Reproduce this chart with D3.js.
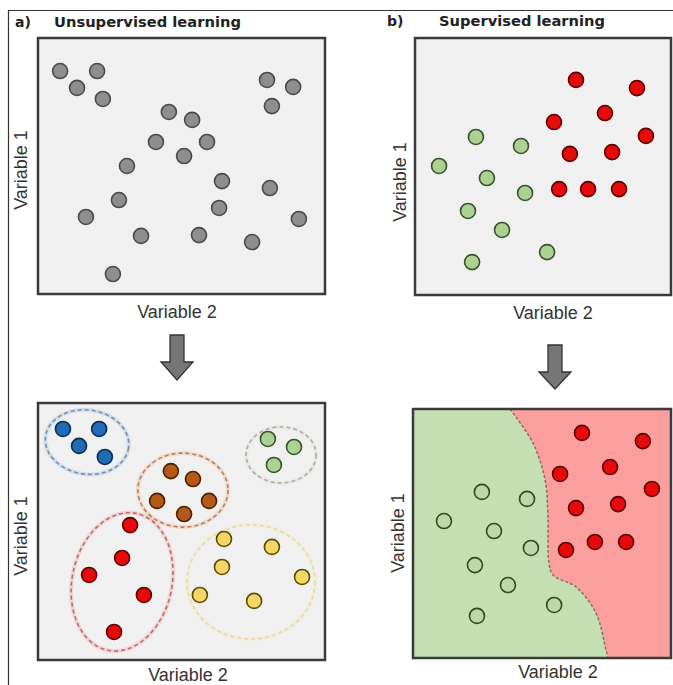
<!DOCTYPE html>
<html>
<head>
<meta charset="utf-8">
<script src="https://cdn.jsdelivr.net/npm/d3@7"></script>
<style>
  body { margin: 0; background: #fff; }
  text { font-family: "Liberation Sans", Arial, sans-serif; fill: #333; }
  .title { font-family: "DejaVu Sans", sans-serif; font-weight: bold; fill: #222; }
</style>
</head>
<body>
<svg id="chart" width="673" height="685"></svg>
<script>
// values, both variables on a 0-100 scale

// a) unsupervised, raw observations
var unsupPoints = [
  [7.7, 87.1], [20.6, 87.1], [13.6, 80.5], [22.6, 76.2], [45.6, 71.1], [53.7, 68.0],
  [41.1, 59.4], [58.9, 59.4], [50.9, 53.9], [31.0, 50.0], [64.1, 44.1], [28.2, 36.7],
  [16.7, 30.1], [63.1, 33.6], [35.9, 22.7], [56.1, 23.0], [74.6, 20.3], [26.1, 7.8],
  [79.8, 83.6], [88.9, 80.9], [81.5, 73.4], [80.8, 41.4], [90.9, 29.3]
];

// a) clustered result
var clusterBlue   = [[8.7, 89.9], [21.3, 89.9], [14.3, 83.3], [23.3, 79.0]];
var clusterOrange = [[46.3, 73.5], [54.0, 70.4], [41.5, 61.9], [59.6, 61.9], [50.9, 56.8]];
var clusterGreen  = [[80.1, 86.0], [89.2, 82.9], [82.2, 75.9]];
var clusterRed    = [[32.1, 52.5], [29.3, 39.7], [17.8, 33.1], [36.9, 25.3], [26.5, 10.9]];
var clusterYellow = [[64.8, 47.1], [81.5, 44.0], [64.1, 36.2], [92.0, 32.3], [56.4, 25.3], [75.3, 23.0]];

// cluster rings: centre, radii (data units), tilt in degrees
var ringNames  = ['blue', 'orange', 'green', 'red', 'yellow'];
var ringCentre = [[17.1, 84.8], [50.5, 66.1], [84.7, 79.8], [29.3, 30.4], [74.2, 30.4]];
var ringRadii  = [[14.6, 12.5], [15.7, 14.4], [12.2, 10.9], [17.4, 27.2], [22.3, 22.2]];
var ringTilt   = [8, 0, 0, 12, 0];

// b) supervised, labelled observations
var supRed = [
  [62.9, 83.7], [86.7, 80.5], [74.2, 70.8], [54.3, 67.3], [90.2, 61.9],
  [60.5, 54.9], [77.0, 55.6], [56.3, 41.2], [67.6, 41.2], [79.7, 41.2]
];
var supGreen = [
  [23.8, 61.5], [41.4, 58.0], [9.4, 50.2], [28.1, 45.5], [43.0, 39.7],
  [20.7, 32.7], [34.0, 25.3], [51.6, 16.7], [22.3, 12.8]
];

// b) classified result
var classRed = [
  [65.5, 90.4], [89.1, 87.1], [76.4, 76.7], [57.0, 73.9], [92.6, 67.9],
  [63.2, 60.2], [79.5, 61.8], [59.3, 43.4], [70.5, 46.6], [82.6, 46.6]
];
var classGreen = [
  [26.7, 66.7], [44.2, 63.9], [12.0, 55.0], [31.4, 51.0], [45.7, 44.2],
  [24.0, 37.3], [36.8, 29.3], [54.7, 21.3], [24.8, 16.9]
];
var decisionBoundary = [
  [37.6, 100], [46.5, 86.3], [51.2, 71.5], [52.3, 56.6], [52.7, 38.2],
  [54.3, 33.3], [63.2, 28.5], [70.9, 18.1], [74.8, 3.2], [75.6, 0]
];

var axisLabels = ['Variable 1', 'Variable 2'];
var panelTitles = [['a)', 'Unsupervised learning'], ['b)', 'Supervised learning']];

var svg = d3.select('#chart');

var palette = {
  gray:   { fill: '#8e8e8e', stroke: '#4a4a4a' },
  red:    { fill: '#e60a0a', stroke: '#5e0000' },
  green:  { fill: '#acd193', stroke: '#34552a' },
  blue:   { fill: '#1f6cb2', stroke: '#0b2c55' },
  orange: { fill: '#b7581b', stroke: '#4a2000' },
  yellow: { fill: '#f6d766', stroke: '#5a4c00' },
  paleGreen: { fill: '#bcd8a8', stroke: '#2d4a22' }
};
var ringColors = {
  blue:   { halo: '#9cc3e6', dash: '#7f8fa0' },
  orange: { halo: '#f2b98a', dash: '#b08468' },
  green:  { halo: '#d8e4cf', dash: '#abb0a6' },
  red:    { halo: '#f4a9a9', dash: '#c06c6c' },
  yellow: { halo: '#f6ecc4', dash: '#e6d9a6' }
};

// outer frame
svg.append('line').attr('x1', 8).attr('x2', 673).attr('y1', 10.5).attr('y2', 10.5)
  .attr('stroke', '#333').attr('stroke-width', 1.2);
svg.append('line').attr('x1', 8.5).attr('x2', 8.5).attr('y1', 10).attr('y2', 685)
  .attr('stroke', '#333').attr('stroke-width', 1.2);

function makePanel(box) {
  return {
    box: box,
    x: d3.scaleLinear().domain([0, 100]).range([box.x0, box.x1]),
    y: d3.scaleLinear().domain([0, 100]).range([box.y1, box.y0])
  };
}

var pA1 = makePanel({ x0: 38, x1: 325, y0: 38, y1: 294, lx: 177, ly: 318, vx: 27, vy: 170 });
var pA2 = makePanel({ x0: 38, x1: 325, y0: 403, y1: 660, lx: 188, ly: 681, vx: 27, vy: 536 });
var pB1 = makePanel({ x0: 415, x1: 671, y0: 38, y1: 295, lx: 553, ly: 319, vx: 406, vy: 182 });
var pB2 = makePanel({ x0: 413, x1: 671, y0: 409, y1: 658, lx: 558, ly: 678, vx: 404, vy: 533 });

function drawBackground(p, fill) {
  var b = p.box;
  svg.append('rect').attr('x', b.x0).attr('y', b.y0)
    .attr('width', b.x1 - b.x0).attr('height', b.y1 - b.y0)
    .attr('fill', fill);
}

function drawBorder(p) {
  var b = p.box;
  svg.append('rect').attr('x', b.x0).attr('y', b.y0)
    .attr('width', b.x1 - b.x0).attr('height', b.y1 - b.y0)
    .attr('fill', 'none').attr('stroke', '#3a3a3a').attr('stroke-width', 2.5);
}

function drawLabels(p) {
  var b = p.box;
  svg.append('text').attr('x', b.lx).attr('y', b.ly)
    .attr('text-anchor', 'middle').style('font-size', '18px')
    .text(axisLabels[1]);
  svg.append('text')
    .attr('transform', 'translate(' + b.vx + ',' + b.vy + ') rotate(-90)')
    .attr('text-anchor', 'middle').style('font-size', '18px')
    .text(axisLabels[0]);
}

function drawPoints(p, data, col) {
  svg.append('g').selectAll('circle').data(data).enter().append('circle')
    .attr('cx', function(d) { return p.x(d[0]); })
    .attr('cy', function(d) { return p.y(d[1]); })
    .attr('r', 7.5)
    .attr('fill', col.fill)
    .attr('stroke', col.stroke)
    .attr('stroke-width', 1.6);
}

function drawArrow(cx, top, headTop, tip) {
  var shaft = 7, head = 16;
  var pts = [
    [cx - shaft, top], [cx + shaft, top], [cx + shaft, headTop], [cx + head, headTop],
    [cx, tip], [cx - head, headTop], [cx - shaft, headTop]
  ];
  svg.append('path')
    .attr('d', 'M' + pts.join('L') + 'Z')
    .attr('fill', '#767676').attr('stroke', '#333').attr('stroke-width', 1.3)
    .attr('stroke-linejoin', 'miter');
}

// titles
svg.append('text').attr('class', 'title').attr('x', 15).attr('y', 27)
  .style('font-size', '14px').text(panelTitles[0][0]);
svg.append('text').attr('class', 'title').attr('x', 54).attr('y', 27)
  .style('font-size', '14px').attr('textLength', 187).attr('lengthAdjust', 'spacingAndGlyphs')
  .text(panelTitles[0][1]);
svg.append('text').attr('class', 'title').attr('x', 387).attr('y', 26)
  .style('font-size', '14px').text(panelTitles[1][0]);
svg.append('text').attr('class', 'title').attr('x', 439).attr('y', 26)
  .style('font-size', '14px').attr('textLength', 166).attr('lengthAdjust', 'spacingAndGlyphs')
  .text(panelTitles[1][1]);

// a) top
drawBackground(pA1, '#f0f0f0');
drawBorder(pA1);
drawPoints(pA1, unsupPoints, palette.gray);
drawLabels(pA1);

// a) bottom, clusters
drawBackground(pA2, '#f0f0f0');
var ringG = svg.append('g');
ringNames.forEach(function(name, i) {
  var cx = pA2.x(ringCentre[i][0]), cy = pA2.y(ringCentre[i][1]);
  var rx = pA2.x(ringRadii[i][0]) - pA2.x(0), ry = pA2.y(0) - pA2.y(ringRadii[i][1]);
  var g = ringG.append('g')
    .attr('transform', 'translate(' + cx + ',' + cy + ') rotate(' + ringTilt[i] + ')');
  g.append('ellipse').attr('rx', rx).attr('ry', ry)
    .attr('fill', 'none').attr('stroke', ringColors[name].halo)
    .attr('stroke-width', 4).attr('stroke-opacity', 0.4);
  g.append('ellipse').attr('rx', rx).attr('ry', ry)
    .attr('fill', 'none').attr('stroke', ringColors[name].dash)
    .attr('stroke-width', 1.6).attr('stroke-dasharray', '4,3');
});
drawBorder(pA2);
drawPoints(pA2, clusterBlue, palette.blue);
drawPoints(pA2, clusterOrange, palette.orange);
drawPoints(pA2, clusterGreen, palette.green);
drawPoints(pA2, clusterRed, palette.red);
drawPoints(pA2, clusterYellow, palette.yellow);
drawLabels(pA2);

// b) top
drawBackground(pB1, '#f0f0f0');
drawBorder(pB1);
drawPoints(pB1, supRed, palette.red);
drawPoints(pB1, supGreen, palette.green);
drawLabels(pB1);

// b) bottom, decision regions
drawBackground(pB2, '#fb9e9e');
var boundaryLine = d3.line()
  .x(function(d) { return pB2.x(d[0]); })
  .y(function(d) { return pB2.y(d[1]); })
  .curve(d3.curveCatmullRom);
var bPath = boundaryLine(decisionBoundary);
svg.append('path')
  .attr('d', 'M' + pB2.x(0) + ',' + pB2.y(100) + 'L' + bPath.slice(1) +
             'L' + pB2.x(0) + ',' + pB2.y(0) + 'Z')
  .attr('fill', '#c4dfb2');
svg.append('path').attr('d', bPath)
  .attr('fill', 'none').attr('stroke', '#8f6b62')
  .attr('stroke-width', 1.5).attr('stroke-dasharray', '3,2');
drawBorder(pB2);
drawPoints(pB2, classRed, palette.red);
drawPoints(pB2, classGreen, palette.paleGreen);
drawLabels(pB2);

// arrows between rows
drawArrow(177, 335, 362, 380);
drawArrow(555, 345, 372, 389);
</script>
</body>
</html>
